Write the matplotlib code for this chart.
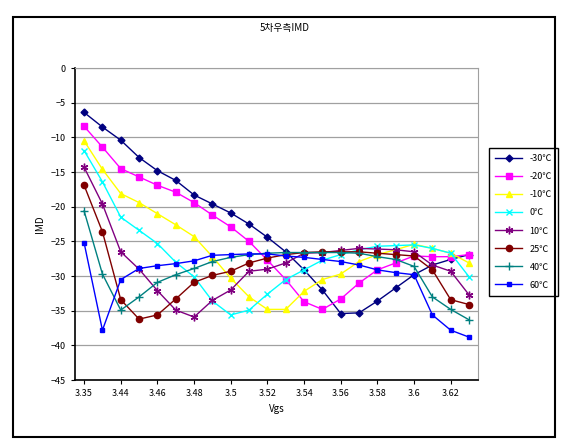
import matplotlib
matplotlib.use("Agg")
from matplotlib import pyplot as plt
from matplotlib.patches import Rectangle

plt.rcParams['font.family'] = ['Noto Sans CJK KR', 'DejaVu Sans']

# 데이터
vgs = ["3.35", "3.43", "3.44", "3.45", "3.46", "3.47", "3.48", "3.49", "3.5", "3.51", "3.52",
       "3.53", "3.54", "3.55", "3.56", "3.57", "3.58", "3.59", "3.6", "3.61", "3.62", "3.63"]

m30 = [-6.4, -8.5, -10.4, -12.9, -14.8, -16.2, -18.3, -19.6, -20.9, -22.5, -24.4,
       -26.5, -29.1, -32.0, -35.4, -35.3, -33.6, -31.7, -29.8, -28.4, -27.6, -26.9]
m20 = [-8.4, -11.4, -14.5, -15.7, -16.9, -17.9, -19.4, -21.2, -22.9, -25.0, -27.7,
       -30.5, -33.7, -34.8, -33.3, -31.0, -29.1, -28.1, -27.1, -27.2, -27.2, -26.9]
m10 = [-10.5, -14.6, -18.1, -19.4, -21.0, -22.6, -24.3, -27.2, -30.3, -33.0, -34.8,
       -34.8, -32.2, -30.5, -29.7, -27.9, -26.9, -26.2, -25.4, -26.0, -26.7, -28.1]
t0 = [-11.9, -16.4, -21.5, -23.4, -25.3, -28.0, -30.1, -33.6, -35.6, -34.9, -32.6,
      -30.5, -29.1, -27.7, -26.9, -26.2, -25.7, -25.6, -25.5, -26.0, -26.7, -30.1]
t10 = [-14.3, -19.6, -26.5, -29.0, -32.1, -34.9, -35.9, -33.5, -32.0, -29.3, -29.0,
       -28.1, -26.7, -26.6, -26.3, -26.0, -26.1, -26.2, -26.5, -28.4, -29.3, -32.7]
t25 = [-16.9, -23.6, -33.4, -36.2, -35.6, -33.3, -30.9, -29.9, -29.3, -28.1, -27.4,
       -26.9, -26.6, -26.5, -26.5, -26.5, -26.7, -26.9, -27.1, -29.1, -33.4, -34.1]
t40 = [-20.6, -29.7, -34.9, -33.0, -30.9, -29.8, -28.9, -27.9, -27.3, -26.9, -26.7,
       -26.6, -26.6, -26.6, -26.6, -26.7, -27.2, -27.6, -28.6, -33.0, -34.8, -36.3]
t60 = [-25.2, -37.8, -30.5, -28.9, -28.5, -28.2, -27.8, -27.0, -26.9, -26.8, -26.8,
       -27.1, -27.3, -27.6, -27.9, -28.4, -29.1, -29.5, -29.8, -35.6, -37.8, -38.8]

labels = ["-30℃", "-20℃", "-10℃", "0℃", "10℃", "25℃", "40℃", "60℃"]
series = [m30, m20, m10, t0, t10, t25, t40, t60]
colors = ["#000080", "#FF00FF", "#FFFF00", "#00FFFF", "#800080", "#800000", "#008080", "#0000FF"]
markers = ["D", "s", "^", "x", (6, 2, 0), "o", "+", "s"]
msizes = [3.5, 4.5, 4.5, 5, 5.5, 4.5, 6, 2.5]

fig = plt.figure(figsize=(5.72, 4.42), dpi=100)
ax = fig.add_axes([0.131, 0.140, 0.705, 0.706])

x = list(range(len(vgs)))
for s, lab, c, mk, ms in zip(series, labels, colors, markers, msizes):
    ax.plot(x, s, color=c, marker=mk, markersize=ms, linewidth=1.0,
            markeredgecolor=c, markerfacecolor=c, label=lab)

# 축 설정
ax.set_xlim(-0.5, len(vgs) - 0.5)
ax.set_ylim(-45, 0)
ax.set_yticks(range(-45, 1, 5))
ax.set_xticks(x[::2])
ax.set_xticklabels(vgs[::2])
ax.tick_params(axis='both', labelsize=6.5, length=3, colors='black')
ax.grid(axis='y', color='#A0A0A0', linewidth=0.9)
ax.set_axisbelow(True)
for side in ['top', 'right']:
    ax.spines[side].set_color('#A0A0A0')
for side in ['left', 'bottom']:
    ax.spines[side].set_linewidth(1.2)

ax.set_xlabel("Vgs", fontsize=7)
ax.set_ylabel("IMD", fontsize=7)
fig.text(0.498, 0.937, "5차우측IMD", ha='center', va='center', fontsize=7)

ax.legend(loc='upper left', bbox_to_anchor=(0.855, 0.665), bbox_transform=fig.transFigure,
          borderaxespad=0, fontsize=6.5, fancybox=False, edgecolor='black', framealpha=1,
          handlelength=3, labelspacing=1.0, borderpad=0.7)

# 바깥 테두리
fig.patches.append(Rectangle((0.0227, 0.0113), 0.9476, 0.950, transform=fig.transFigure,
                             fill=False, edgecolor='black', linewidth=1.5))

plt.savefig("out.png", dpi=100)
